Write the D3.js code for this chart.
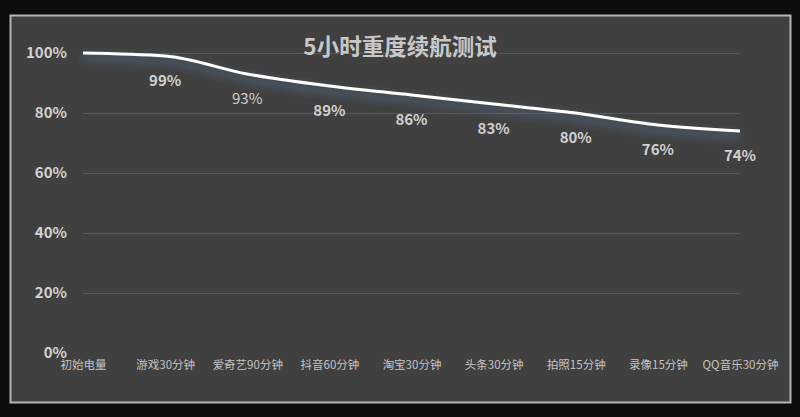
<!DOCTYPE html>
<html><head><meta charset="utf-8">
<script src="https://cdn.jsdelivr.net/npm/d3@7"></script>
<style>
html,body{margin:0;padding:0;background:#0c0c0c;}
svg{display:block;}
text{font-family:"Noto Sans CJK SC","Noto Sans",sans-serif;}
</style></head>
<body>
<svg id="chart" width="800" height="417"></svg>
<script>
const categories = ["初始电量","游戏30分钟","爱奇艺90分钟","抖音60分钟","淘宝30分钟","头条30分钟","拍照15分钟","录像15分钟","QQ音乐30分钟"];
const values = [100, 99, 93, 89, 86, 83, 80, 76, 74];
const labelShown = [false, true, true, true, true, true, true, true, true];
const yTicks = [0, 20, 40, 60, 80, 100];
const title = "5小时重度续航测试";

const svg = d3.select("#chart");
svg.append("rect").attr("x",0).attr("y",0).attr("width",800).attr("height",417).attr("fill","#0c0c0c");
svg.append("rect").attr("x",10.5).attr("y",15.5).attr("width",780).attr("height",387)
  .attr("fill","#404040").attr("stroke","#b4b4b4").attr("stroke-width",2);

const x = d3.scalePoint().domain(categories).range([83, 740]);
const y = d3.scaleLinear().domain([0,100]).range([353, 53]);

const defs = svg.append("defs");
const f = defs.append("filter").attr("id","glow").attr("x","-10%").attr("y","-60%").attr("width","120%").attr("height","220%");
f.append("feDropShadow").attr("dx",0).attr("dy",5).attr("stdDeviation",5).attr("flood-color","#5682ac").attr("flood-opacity",0.9);

// gridlines
svg.append("g").selectAll("line").data(yTicks.filter(d=>d>0)).join("line")
  .attr("x1",83).attr("x2",740).attr("y1",d=>y(d)+0.5).attr("y2",d=>y(d)+0.5)
  .attr("stroke","#585858").attr("stroke-width",1);

// y axis
const yAxis = d3.axisLeft(y).tickValues(yTicks).tickFormat(d=>d+"%").tickSize(0).tickPadding(16);
const ya = svg.append("g").attr("transform","translate(83,0)").call(yAxis);
ya.select(".domain").remove();
ya.selectAll("text").attr("fill","#d2d2d2").attr("font-size",15).attr("font-weight","bold");

// x axis
const xAxis = d3.axisBottom(x).tickSize(0).tickPadding(4);
const xa = svg.append("g").attr("transform","translate(0,357)").call(xAxis);
xa.select(".domain").remove();
xa.selectAll("text").attr("fill","#c4c4c4").attr("font-size",11.5);

// title
svg.append("text").attr("x",400).attr("y",55).attr("text-anchor","middle")
  .attr("fill","#c8c8c8").attr("font-size",22.5).attr("font-weight","bold").text(title);

// line
const line = d3.line().x((d,i)=>x(categories[i])).y(d=>y(d)).curve(d3.curveMonotoneX);
svg.append("path").datum(values).attr("d",line).attr("fill","none")
  .attr("stroke","#ffffff").attr("stroke-width",3).attr("filter","url(#glow)");

// labels
svg.append("g").selectAll("text").data(values.map((v,i)=>({v,i})).filter(d=>labelShown[d.i])).join("text")
  .attr("x",d=>x(categories[d.i])).attr("y",d=>y(d.v)+30)
  .attr("text-anchor","middle").attr("fill","#d0d0d0").attr("font-size",15)
  .attr("font-weight",d=>d.v===93?"normal":"bold").text(d=>d.v+"%");
</script>
</body></html>
